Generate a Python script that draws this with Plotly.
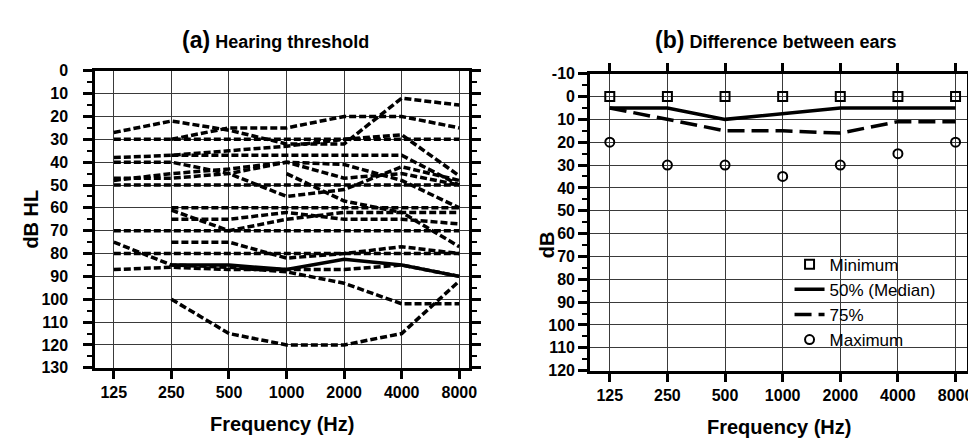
import math
import plotly.graph_objects as go

W, H = 976, 438

# ---------------- data ----------------
freqs = [125, 250, 500, 1000, 2000, 4000, 8000]
freq_labels = ["125", "250", "500", "1000", "2000", "4000", "8000"]

# Panel (a): individual hearing thresholds (dB HL), None = not measured
subj01 = [30, 30, 30, 30, 30, 30, 30]
subj02 = [27, 22, 26, 32, 32, 12, 15]
subj03 = [None, 30, 25, 25, 20, 20, 25]
subj04 = [38, 37, 35, 33, 30, 28, 46]
subj05 = [None, 37, 37, 37, 37, 37, 50]
subj06 = [40, 40, 45, 55, 52, 42, 48]
subj07 = [47, 47, 45, 40, 41, 48, 60]
subj08 = [48, 45, 43, 40, 47, 45, 50]
subj09 = [50, 50, 50, 50, 50, 50, 50]
subj10 = [None, 60, 60, 60, 60, 60, 60]
subj11 = [None, 61, 70, 65, 62, 62, 77]
subj12 = [70, 70, 70, 70, 70, 70, 70]
subj13 = [None, 65, 65, 62, 65, 65, 67]
subj15 = [None, None, None, 45, 57, 62, 62]
subj16 = [75, 85, 86, 88, 93, 102, 102]
subj17 = [80, 80, 80, 80, 80, 80, 80]
subj18 = [87, 86, 87, 87, 87, 85, 90]
subj19 = [None, 75, 75, 82, 80, 77, 80]
subj20 = [None, 100, 115, 120, 120, 115, 92]
subjects = [subj01, subj02, subj03, subj04, subj05, subj06, subj07, subj08, subj09, subj10,
            subj11, subj12, subj13, subj15, subj16, subj17, subj18, subj19, subj20]
median_a = [None, 85, 85, 87, 82.5, 85, 90]

# Panel (b): difference between ears (dB)
diff_min = [0, 0, 0, 0, 0, 0, 0]
diff_median = [5, 5, 10, 7.5, 5, 5, 5]
diff_p75 = [5, 10, 15, 15, 16, 11, 11]
diff_max = [20, 30, 30, 35, 30, 25, 20]

ya_vals = list(range(0, 131, 10))
ya_labels = [str(v) for v in ya_vals]
yb_vals = list(range(-10, 121, 10))
yb_labels = [str(v) for v in yb_vals]

# ---------------- helpers ----------------
def px(x):
    return x / W

def py(y):
    return 1 - y / H

FONT = "Liberation Sans, Arial, sans-serif"
L2 = math.log10(2)

fig = go.Figure()

dash_a = "7px,3px"
for s in subjects:
    fig.add_trace(go.Scatter(x=freqs, y=s, mode="lines", xaxis="x", yaxis="y",
                             line=dict(color="black", width=3.5, dash=dash_a),
                             connectgaps=False, showlegend=False, hoverinfo="skip"))
fig.add_trace(go.Scatter(x=freqs, y=median_a, mode="lines", xaxis="x", yaxis="y",
                         line=dict(color="black", width=3.5), showlegend=False))

# Panel b
fig.add_trace(go.Scatter(x=freqs, y=diff_min, mode="markers", name="Minimum", xaxis="x2", yaxis="y2",
                         marker=dict(symbol="square-open", size=9, color="black", line=dict(width=2)),
                         legendgroup="g1"))
fig.add_trace(go.Scatter(x=freqs, y=diff_median, mode="lines", name="50% (Median)", xaxis="x2", yaxis="y2",
                         line=dict(color="black", width=3.5), legendgroup="g2"))
fig.add_trace(go.Scatter(x=freqs, y=diff_p75, mode="lines", name="75%", xaxis="x2", yaxis="y2",
                         line=dict(color="black", width=3.5, dash="17px,7px"), legendgroup="g3"))
fig.add_trace(go.Scatter(x=freqs, y=diff_max, mode="markers", name="Maximum", xaxis="x2", yaxis="y2",
                         marker=dict(symbol="circle-open", size=9, color="black", line=dict(width=2)),
                         legendgroup="g4"))

tickfont = dict(family=FONT, size=16, color="black", weight="bold")
grid = "#3a3a3a"

xa_range = [math.log10(125) - 0.322 * L2, math.log10(8000) + 0.172 * L2]
xb_range = [math.log10(125) - 0.34 * L2, math.log10(8000) + 0.2 * L2]

common_x = dict(type="log", tickvals=freqs, ticktext=freq_labels, tickfont=tickfont,
                showgrid=True, gridcolor=grid, gridwidth=1, showline=True, linewidth=3,
                linecolor="black", ticks="outside", ticklen=8, tickwidth=3, tickcolor="black",
                zeroline=False, ticklabelstandoff=0)
common_y = dict(tickfont=tickfont, showgrid=True, gridcolor=grid, gridwidth=1, showline=True,
                linewidth=3, linecolor="black", ticks="outside", ticklen=9, tickwidth=3,
                tickcolor="black", mirror="ticks", zeroline=False,
                minor=dict(dtick=5, ticklen=5, tickwidth=2, tickcolor="black", showgrid=False, ticks="outside"))

fig.update_layout(
    width=W, height=H, margin=dict(l=0, r=0, t=0, b=0),
    paper_bgcolor="white", plot_bgcolor="white",
    xaxis=dict(common_x, domain=[px(88), px(465)], range=xa_range, anchor="y", mirror=True),
    yaxis=dict(common_y, domain=[py(366), py(57)], range=[130, 0], tickvals=ya_vals, ticktext=ya_labels,
               anchor="x", ticklabelstandoff=12),
    xaxis3=dict(type="log", overlaying="x", side="top", range=xa_range, tickvals=freqs,
                showticklabels=False, ticks="inside", ticklen=7, tickwidth=3, tickcolor="black",
                showgrid=False, showline=False, zeroline=False, anchor="y"),
    xaxis2=dict(common_x, domain=[px(587), px(967)], range=xb_range, anchor="y2", mirror="ticks"),
    yaxis2=dict(common_y, domain=[py(369), py(60)], range=[120, -10], tickvals=yb_vals, ticktext=yb_labels,
                anchor="x2", ticklabelstandoff=0),
    legend=dict(x=px(788), y=py(240), xanchor="left", yanchor="top", bgcolor="rgba(0,0,0,0)",
                font=dict(family=FONT, size=17, color="black"), tracegroupgap=0,
                itemwidth=30),
    shapes=[dict(type="rect", xref="paper", yref="paper", x0=px(755), x1=px(964), y0=py(353), y1=py(246),
                 fillcolor="white", line=dict(width=0), layer="between")],
    annotations=[
        dict(text="<b><span style='font-size:23px'>(a)</span> Hearing threshold</b>", x=px(270), y=py(25),
             xanchor="center", yanchor="middle",
             xref="paper", yref="paper", showarrow=False, font=dict(family=FONT, size=18, color="black")),
        dict(text="<b><span style='font-size:23px'>(b)</span> Difference between ears</b>", x=px(774), y=py(25),
             xanchor="center", yanchor="middle",
             xref="paper", yref="paper", showarrow=False, font=dict(family=FONT, size=18, color="black")),
        dict(text="<b>Frequency (Hz)</b>", x=px(276), y=py(424), xref="paper", yref="paper",
             xanchor="center", yanchor="middle",
             showarrow=False, font=dict(family=FONT, size=20, color="black")),
        dict(text="<b>Frequency (Hz)</b>", x=px(777), y=py(428), xref="paper", yref="paper",
             xanchor="center", yanchor="middle",
             showarrow=False, font=dict(family=FONT, size=20, color="black")),
        dict(text="<b>dB HL</b>", x=px(23), y=py(211), xref="paper", yref="paper", textangle=-90,
             xanchor="center", yanchor="middle",
             showarrow=False, font=dict(family=FONT, size=20, color="black")),
        dict(text="<b>dB</b>", x=px(543), y=py(238), xref="paper", yref="paper", textangle=-90,
             xanchor="center", yanchor="middle",
             showarrow=False, font=dict(family=FONT, size=20, color="black")),
    ],
)

fig.write_html("out.html")
